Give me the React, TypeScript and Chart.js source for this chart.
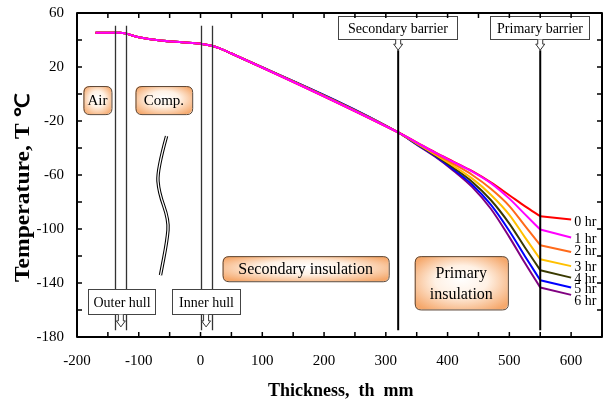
import React, { useEffect, useRef } from "react";
import { Chart, registerables } from "chart.js";

Chart.register(...registerables);

// ---------------- data ----------------
const thickness = [-170, -130, -100, -65, -30, 0, 18, 30, 50, 320, 350, 380, 410, 440, 470, 500, 525, 550, 600];
const sharedProfile = [45.3, 45.3, 42, 39.6, 38.3, 37.3, 35.8, 34, 30, -28.5];
const tail0hr = [-35.8, -43.2, -50.2, -57.2, -65.5, -75, -83, -90.5, -93];
const tail1hr = [-36, -43.5, -50.5, -57.5, -66, -77.5, -89, -100.4, -106.3];
const tail2hr = [-36.3, -44.2, -51.9, -60, -70.2, -83, -97.5, -112, -117];
const tail3hr = [-36.7, -44.9, -53.4, -62.7, -74.6, -89.5, -106, -122.4, -127.5];
const tail4hr = [-37, -45.5, -54.8, -65.1, -78.5, -96, -113.5, -130.5, -136];
const tail5hr = [-37.3, -46, -56, -67.2, -82, -101.5, -120, -137.9, -143.4];
const tail6hr = [-37.5, -46.5, -57, -69, -85, -106, -125, -143.3, -148.8];
const seriesTails = [tail0hr, tail1hr, tail2hr, tail3hr, tail4hr, tail5hr, tail6hr];
const seriesLabels = ["0 hr", "1 hr", "2 hr", "3 hr", "4 hr", "5 hr", "6 hr"];
const seriesColors = ["#ff0000", "#ff00ff", "#ff6a1a", "#ffc000", "#3a3a00", "#0000ff", "#800080"];
const seriesOrder = [1, 0, 2, 3, 4, 5, 6];
const hourLabelT = [-95.4, -107.8, -116.9, -128.5, -137.4, -144.8, -153.3];
const hourLabelX = 605;
const primaryBarrierX = 550;

// ---------------- annotations ----------------
const hullLinesX = [-138, -120, 0, 18];
const hullLineRange = [50.5, -175];
const barrierLinesX = [320, 550];
const barrierLineRange = [32.5, -175];
const whiteBoxes = [
  { text: "Secondary barrier", x1: 223, x2: 415, y1: 58, y2: 40.5, arrowX: 320, tip: 32.5 },
  { text: "Primary barrier", x1: 469, x2: 629, y1: 58, y2: 40.5, arrowX: 550, tip: 32.5 },
  { text: "Outer hull", x1: -183, x2: -73.4, y1: -144.6, y2: -162.6, arrowX: -129, tip: -172.5 },
  { text: "Inner hull", x1: -45.4, x2: 63.2, y1: -144.6, y2: -162.6, arrowX: 9, tip: -172.5 },
];
const orangeBoxes = [
  { lines: ["Air"], x1: -189.6, x2: -144.2, y1: 5.9, y2: -14.9, size: 15 },
  { lines: ["Comp."], x1: -105.3, x2: -13.5, y1: 5.9, y2: -14.9, size: 15 },
  { lines: ["Secondary insulation"], x1: 35.7, x2: 304.7, y1: -120.1, y2: -138.7, size: 16 },
  { lines: ["Primary", "insulation"], x1: 346.8, x2: 497.6, y1: -120.1, y2: -159.6, size: 16 },
];
const wavyPath = [
  [-55, -31.2],
  [-70.2, -56.4],
  [-67.6, -72.5],
  [-51.4, -93.4],
  [-54, -108.3],
  [-64.8, -134.2],
];

const FONT = "'Liberation Serif', 'Times New Roman', serif";

function roundRect(ctx: CanvasRenderingContext2D, x: number, y: number, w: number, h: number, r: number) {
  ctx.beginPath();
  ctx.moveTo(x + r, y);
  ctx.lineTo(x + w - r, y);
  ctx.quadraticCurveTo(x + w, y, x + w, y + r);
  ctx.lineTo(x + w, y + h - r);
  ctx.quadraticCurveTo(x + w, y + h, x + w - r, y + h);
  ctx.lineTo(x + r, y + h);
  ctx.quadraticCurveTo(x, y + h, x, y + h - r);
  ctx.lineTo(x, y + r);
  ctx.quadraticCurveTo(x, y, x + r, y);
  ctx.closePath();
}

const annotPlugin = {
  id: "annot",
  afterDatasetsDraw(chart: any) {
    const { ctx, chartArea: ca, scales } = chart;
    const sx = scales.x;
    const sy = scales.y;
    const px = (v: number) => sx.getPixelForValue(v);
    const py = (v: number) => sy.getPixelForValue(v);
    ctx.save();

    // hull lines
    ctx.strokeStyle = "#333";
    ctx.lineWidth = 1.3;
    hullLinesX.forEach((xv) => {
      ctx.beginPath();
      ctx.moveTo(Math.round(px(xv)) + 0.5, py(hullLineRange[0]));
      ctx.lineTo(Math.round(px(xv)) + 0.5, py(hullLineRange[1]));
      ctx.stroke();
    });
    // barrier lines
    ctx.strokeStyle = "#000";
    ctx.lineWidth = 2;
    barrierLinesX.forEach((xv) => {
      ctx.beginPath();
      ctx.moveTo(px(xv), py(barrierLineRange[0]));
      ctx.lineTo(px(xv), py(barrierLineRange[1]));
      ctx.stroke();
    });

    // orange boxes
    orangeBoxes.forEach((b) => {
      const x1 = px(b.x1), x2 = px(b.x2), y1 = py(b.y1), y2 = py(b.y2);
      const w = x2 - x1, h = y2 - y1;
      ctx.save();
      roundRect(ctx, x1, y1, w, h, 6);
      ctx.clip();
      ctx.translate((x1 + x2) / 2, (y1 + y2) / 2);
      ctx.scale(w / 2, h / 2);
      const g = ctx.createRadialGradient(0, -0.15, 0, 0, 0, 1.25);
      g.addColorStop(0, "#ffffff");
      g.addColorStop(0.45, "#fff1e4");
      g.addColorStop(1, "#f5a86c");
      ctx.fillStyle = g;
      ctx.fillRect(-1.2, -1.2, 2.4, 2.4);
      ctx.restore();
      roundRect(ctx, x1 + 0.5, y1 + 0.5, w, h, 6);
      ctx.strokeStyle = "#5a4636";
      ctx.lineWidth = 1;
      ctx.stroke();
      ctx.fillStyle = "#000";
      ctx.font = `${b.size}px ${FONT}`;
      ctx.textAlign = "center";
      ctx.textBaseline = "middle";
      const cx = (x1 + x2) / 2, cy = (y1 + y2) / 2;
      const lh = 21;
      b.lines.forEach((t, i) => {
        ctx.fillText(t, cx, cy + (i - (b.lines.length - 1) / 2) * lh + 1);
      });
    });

    // white label boxes with hollow arrows
    whiteBoxes.forEach((b) => {
      const x1 = Math.round(px(b.x1)) + 0.5, x2 = Math.round(px(b.x2)) + 0.5;
      const y1 = Math.round(py(b.y1)) + 0.5, y2 = Math.round(py(b.y2)) + 0.5;
      ctx.fillStyle = "#fff";
      ctx.fillRect(x1, y1, x2 - x1, y2 - y1);
      ctx.strokeStyle = "#444";
      ctx.lineWidth = 1;
      ctx.strokeRect(x1, y1, x2 - x1, y2 - y1);
      ctx.fillStyle = "#000";
      ctx.font = `14px ${FONT}`;
      ctx.textAlign = "center";
      ctx.textBaseline = "middle";
      ctx.fillText(b.text, (x1 + x2) / 2, (y1 + y2) / 2 + 1);
      // arrow
      const ax = px(b.arrowX);
      const tip = py(b.tip);
      const top = y2;
      const headLen = 6;
      ctx.beginPath();
      ctx.moveTo(ax - 2.5, top);
      ctx.lineTo(ax - 2.5, tip - headLen);
      ctx.lineTo(ax - 4.5, tip - headLen);
      ctx.lineTo(ax, tip);
      ctx.lineTo(ax + 4.5, tip - headLen);
      ctx.lineTo(ax + 2.5, tip - headLen);
      ctx.lineTo(ax + 2.5, top);
      ctx.fillStyle = "#fff";
      ctx.fill();
      ctx.strokeStyle = "#333";
      ctx.lineWidth = 1;
      ctx.stroke();
    });

    // wavy double line
    const pts = wavyPath.map(([a, b]) => [px(a), py(b)]);
    const drawWave = () => {
      ctx.beginPath();
      ctx.moveTo(pts[0][0], pts[0][1]);
      for (let i = 1; i < pts.length - 1; i++) {
        const mx = (pts[i][0] + pts[i + 1][0]) / 2;
        const my = (pts[i][1] + pts[i + 1][1]) / 2;
        ctx.quadraticCurveTo(pts[i][0], pts[i][1], mx, my);
      }
      const last = pts[pts.length - 1];
      ctx.lineTo(last[0], last[1]);
    };
    ctx.lineCap = "butt";
    ctx.lineJoin = "round";
    drawWave();
    ctx.strokeStyle = "#000";
    ctx.lineWidth = 3.4;
    ctx.stroke();
    drawWave();
    ctx.strokeStyle = "#fff";
    ctx.lineWidth = 1.3;
    ctx.stroke();

    // frame
    ctx.strokeStyle = "#000";
    ctx.lineWidth = 2;
    ctx.strokeRect(ca.left, ca.top, ca.right - ca.left, ca.bottom - ca.top);

    // inward ticks
    ctx.lineWidth = 1.5;
    const tl = 5;
    sx.ticks.forEach((t: any) => {
      const xx = px(t.value);
      ctx.beginPath();
      ctx.moveTo(xx, ca.bottom);
      ctx.lineTo(xx, ca.bottom - tl);
      ctx.moveTo(xx, ca.top);
      ctx.lineTo(xx, ca.top + tl);
      ctx.stroke();
    });
    sy.ticks.forEach((t: any) => {
      const yy = py(t.value);
      ctx.beginPath();
      ctx.moveTo(ca.left, yy);
      ctx.lineTo(ca.left + tl, yy);
      ctx.moveTo(ca.right, yy);
      ctx.lineTo(ca.right - tl, yy);
      ctx.stroke();
    });

    // hour labels
    ctx.fillStyle = "#000";
    ctx.font = `14px ${FONT}`;
    ctx.textAlign = "left";
    ctx.textBaseline = "middle";
    seriesLabels.forEach((lab, i) => {
      ctx.fillText(lab, px(hourLabelX), py(hourLabelT[i]));
    });

    // axis titles
    ctx.font = `bold 18px ${FONT}`;
    ctx.textAlign = "left";
    ctx.textBaseline = "middle";
    ctx.fillText("Thickness,  th  mm", 268, 391);

    ctx.save();
    ctx.translate(24, 282);
    ctx.rotate(-Math.PI / 2);
    ctx.scale(1.18, 1);
    ctx.font = `bold 20px ${FONT}`;
    ctx.textAlign = "left";
    ctx.textBaseline = "middle";
    ctx.fillText("Temperature, T \u2103", 0, 0);
    ctx.restore();

    ctx.restore();
  },
};

export default function App() {
  const ref = useRef<HTMLCanvasElement | null>(null);
  useEffect(() => {
    document.body.style.margin = "0";
    const canvas = ref.current;
    if (!canvas) return;
    const datasets: any[] = [];
    seriesLabels.forEach((label, i) => {
      const pts = thickness.map((x, k) => ({
        x,
        y: k < sharedProfile.length ? sharedProfile[k] : seriesTails[i][k - sharedProfile.length],
      }));
      const common = {
        borderColor: seriesColors[i],
        backgroundColor: seriesColors[i],
        borderWidth: 2,
        pointRadius: 0,
        fill: false,
        order: seriesOrder[i],
      };
      // through the insulation (smooth curve)
      datasets.push({
        ...common,
        label,
        data: pts.filter((p) => p.x <= primaryBarrierX),
        cubicInterpolationMode: "monotone",
      });
      // beyond the primary barrier (straight segment)
      datasets.push({
        ...common,
        label: label + " (membrane)",
        data: pts.filter((p) => p.x >= primaryBarrierX),
        tension: 0,
      });
    });
    const chart = new Chart(canvas, {
      type: "line",
      data: { datasets },
      options: {
        animation: false,
        responsive: false,
        devicePixelRatio: 1,
        layout: { padding: { top: 13, right: 5, left: 0, bottom: 0 } },
        plugins: { legend: { display: false }, tooltip: { enabled: false } },
        scales: {
          x: {
            type: "linear",
            min: -200,
            max: 650,
            afterFit: (s: any) => {
              s.height = 64;
              s.paddingLeft = 0;
              s.paddingRight = 0;
            },
            grid: { display: false, drawTicks: false },
            border: { display: false },
            ticks: {
              stepSize: 50,
              autoSkip: false,
              maxRotation: 0,
              padding: 15,
              color: "#000",
              font: { family: FONT, size: 15 },
              callback: (v: any) => (Number(v) % 100 === 0 ? String(v) : ""),
            },
          },
          y: {
            type: "linear",
            min: -180,
            max: 60,
            afterFit: (s: any) => {
              s.width = 77;
              s.paddingTop = 0;
              s.paddingBottom = 0;
            },
            grid: { display: false, drawTicks: false },
            border: { display: false },
            ticks: {
              stepSize: 20,
              autoSkip: false,
              padding: 13,
              color: "#000",
              font: { family: FONT, size: 15 },
              callback: (v: any) => ((Number(v) - 60) % 40 === 0 ? String(v) : ""),
            },
          },
        },
      },
      plugins: [annotPlugin],
    } as any);
    return () => chart.destroy();
  }, []);
  return (
    <div style={{ width: 607, height: 401, background: "#fff" }}>
      <canvas ref={ref} width={607} height={401} style={{ display: "block" }} />
    </div>
  );
}
